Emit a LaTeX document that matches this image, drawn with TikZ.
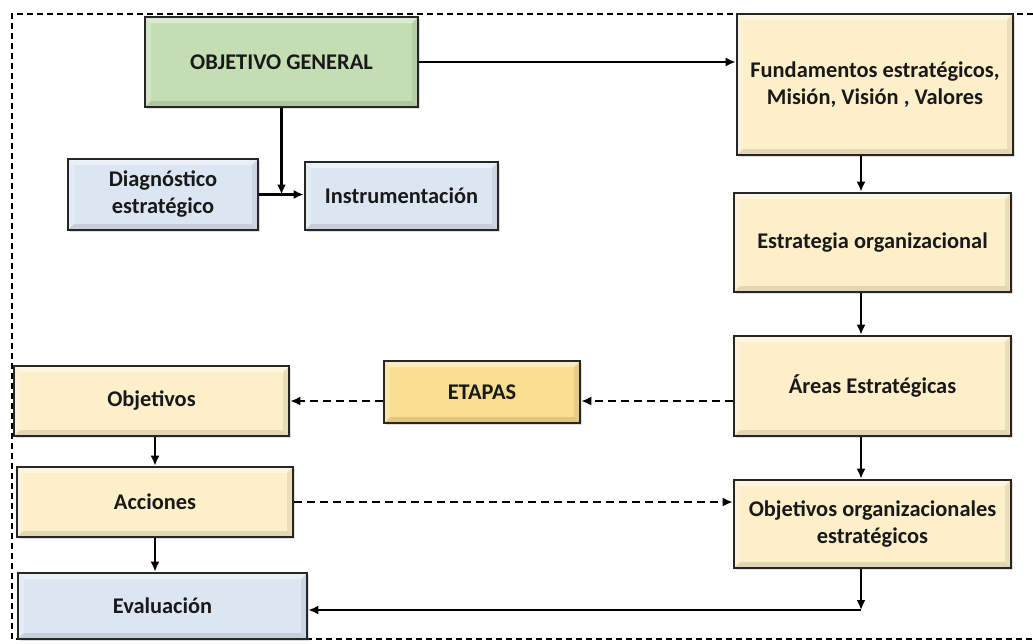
\documentclass[tikz,border=0pt]{standalone}
\usepackage{fontspec}
\setmainfont{Carlito}
\usetikzlibrary{arrows.meta,calc,shadows}

\definecolor{verde}{HTML}{C4DDB3}
\definecolor{azul}{HTML}{DCE6F2}
\definecolor{crema}{HTML}{FCEFC9}
\definecolor{oro}{HTML}{F9DE91}

\tikzset{
	bisel/.style={path picture={
		\fill[white, opacity=0.4] (path picture bounding box.north west) -- (path picture bounding box.north east)
			-- ([shift={(-3pt,-3pt)}]path picture bounding box.north east) -- ([shift={(3pt,-3pt)}]path picture bounding box.north west) -- cycle;
		\fill[white, opacity=0.25] (path picture bounding box.north west) -- ([shift={(3pt,-3pt)}]path picture bounding box.north west)
			-- ([shift={(3pt,3pt)}]path picture bounding box.south west) -- (path picture bounding box.south west) -- cycle;
		\fill[black, opacity=0.07] (path picture bounding box.north east) -- ([shift={(-3pt,-3pt)}]path picture bounding box.north east)
			-- ([shift={(-3pt,3pt)}]path picture bounding box.south east) -- (path picture bounding box.south east) -- cycle;
		\fill[black, opacity=0.1] (path picture bounding box.south west) -- ([shift={(3pt,3pt)}]path picture bounding box.south west)
			-- ([shift={(-3pt,3pt)}]path picture bounding box.south east) -- (path picture bounding box.south east) -- cycle;
	}},
	caja/.style={draw=black!85, line width=1.3pt, fill=crema, text=black!90, bisel,
		font=\bfseries\fontsize{11.2}{13.5}\selectfont, align=center, inner sep=2pt,
		drop shadow={opacity=0.25, shadow xshift=0.8pt, shadow yshift=-0.8pt}},
	flecha/.style={-{Latex[length=5pt,width=4.5pt]}, line width=1.4pt},
	punteada/.style={flecha, dash pattern=on 4pt off 2.5pt}
}

\begin{document}
\begin{tikzpicture}[x=0.5pt, y=-0.5pt]
\useasboundingbox (0,0) rectangle (1033,643);
\draw[dash pattern=on 3pt off 2pt, line width=1pt] (1033,14) -- (12,14) -- (12,639) -- (1033,639);

\node[caja, fill=verde, minimum width=136.5pt, minimum height=45pt] (objgen) at (281.5,62) {OBJETIVO GENERAL};
\node[caja, fill=azul, minimum width=95pt, minimum height=35.5pt] (diag) at (163,194.5) {Diagnóstico\\estratégico};
\node[caja, fill=azul, minimum width=96.5pt, minimum height=34pt] (instr) at (401.5,196) {Instrumentación};
\node[caja, minimum width=138pt, minimum height=70.5pt] (fund) at (875,84.5) {Fundamentos estratégicos,\\Misión, Visión , Valores};
\node[caja, minimum width=138.5pt, minimum height=49.5pt] (estr) at (872.5,242.5) {Estrategia organizacional};
\node[caja, minimum width=138.5pt, minimum height=50pt] (areas) at (872.5,386) {Áreas Estratégicas};
\node[caja, minimum width=138.5pt, minimum height=44pt] (objorg) at (872.5,524) {Objetivos organizacionales\\estratégicos};
\node[caja, fill=oro, minimum width=98pt, minimum height=31pt] (etapas) at (482,392) {ETAPAS};
\node[caja, minimum width=137.5pt, minimum height=35pt] (objetivos) at (151.5,401) {Objetivos};
\node[caja, minimum width=138pt, minimum height=35pt] (acciones) at (155,502) {Acciones};
\node[caja, fill=azul, minimum width=144.5pt, minimum height=33pt] (eval) at (162.5,606) {Evaluación};

\coordinate (eje) at (861,0);
\coordinate (esquina) at (861,610);

% flechas
\draw[flecha] (objgen.south) -- (objgen.south |- diag.east);
\draw[flecha] (diag.east) -- (instr.west |- diag.east);
\draw[flecha] (objgen.east) -- (objgen.east -| fund.west);
\draw[flecha] (fund.south -| eje) -- (estr.north -| eje);
\draw[flecha] (estr.south -| eje) -- (areas.north -| eje);
\draw[flecha] (areas.south -| eje) -- (objorg.north -| eje);
\draw[flecha] (objorg.south -| eje) -- (esquina);
\draw[flecha] (esquina) -- (eval.east |- esquina);
\draw[flecha] (objetivos.south -| acciones.north) -- (acciones.north);
\draw[flecha] (acciones.south) -- (acciones.south |- eval.north);
\draw[punteada] (areas.west |- objetivos.east) -- (etapas.east |- objetivos.east);
\draw[punteada] (etapas.west |- objetivos.east) -- (objetivos.east);
\draw[punteada] (acciones.east) -- (objorg.west |- acciones.east);
\end{tikzpicture}
\end{document}
